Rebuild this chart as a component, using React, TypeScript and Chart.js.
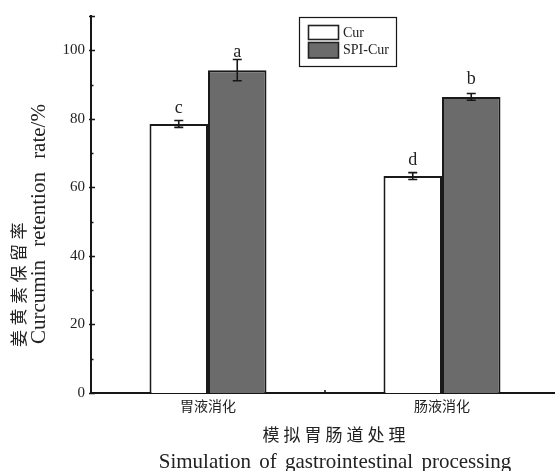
import React, { useEffect, useRef } from 'react';
import Chart from 'chart.js/auto';

const categories = ['胃液消化', '肠液消化'];
const seriesNames = ['Cur', 'SPI-Cur'];
const curValues = [78.5, 63.3];
const spiCurValues = [94.2, 86.4];
const curErrors = [1.0, 1.0];
const spiCurErrors = [3.1, 1.0];
const curLetters = ['c', 'd'];
const spiCurLetters = ['a', 'b'];
const curLetterY = [81.6, 66.4];
const spiCurLetterY = [97.9, 90.1];
const yTickValues = [0, 20, 40, 60, 80, 100];
const yMinorTickValues = [10, 30, 50, 70, 90];
const yMax = 110;
const yTitleZh = '姜黄素保留率';
const yTitleEn = 'Curcumin retention rate/%';
const xTitleZh = '模拟胃肠道处理';
const xTitleEn = 'Simulation of gastrointestinal processing';

const SERIF = '"Liberation Serif", "DejaVu Serif", serif';
const CJK = '"Noto Sans CJK SC", sans-serif';
const INK = '#161616';
const TEXT = '#222222';
const GRAY = '#6b6b6b';

const overlay = {
  id: 'overlay',
  afterDatasetsDraw(chart: any) {
    const ctx = chart.ctx;
    const y = chart.scales.y;
    const errs = [curErrors, spiCurErrors];
    const letters = [curLetters, spiCurLetters];
    const letterY = [curLetterY, spiCurLetterY];
    chart.data.datasets.forEach((ds: any, di: number) => {
      const meta = chart.getDatasetMeta(di);
      meta.data.forEach((bar: any, i: number) => {
        const v = ds.data[i];
        const e = errs[di][i];
        const yt = y.getPixelForValue(v + e);
        const yb = y.getPixelForValue(v - e);
        const x = bar.x;
        ctx.save();
        ctx.strokeStyle = INK;
        ctx.lineWidth = 1.6;
        ctx.beginPath();
        ctx.moveTo(x, yt);
        ctx.lineTo(x, yb);
        ctx.moveTo(x - 4.5, yt);
        ctx.lineTo(x + 4.5, yt);
        ctx.moveTo(x - 4.5, yb);
        ctx.lineTo(x + 4.5, yb);
        ctx.stroke();
        ctx.fillStyle = TEXT;
        ctx.font = '18px ' + SERIF;
        ctx.textAlign = 'center';
        ctx.textBaseline = 'alphabetic';
        ctx.fillText(letters[di][i], x, y.getPixelForValue(letterY[di][i]));
        ctx.restore();
      });
    });
  },
  afterDraw(chart: any) {
    const ctx = chart.ctx;
    const y = chart.scales.y;
    const x = chart.scales.x;
    const area = chart.chartArea;
    ctx.save();
    ctx.strokeStyle = INK;
    ctx.lineWidth = 1.6;
    // y ticks
    ctx.beginPath();
    [...yTickValues, yMax].forEach((v) => {
      const py = Math.round(y.getPixelForValue(v)) + 0.5;
      ctx.moveTo(area.left - 2, py);
      ctx.lineTo(area.left + 4, py);
    });
    yMinorTickValues.forEach((v) => {
      const py = Math.round(y.getPixelForValue(v)) + 0.5;
      ctx.moveTo(area.left, py);
      ctx.lineTo(area.left + 2.5, py);
    });
    // x category boundary tick
    const mid = (x.getPixelForValue(0) + x.getPixelForValue(1)) / 2;
    ctx.moveTo(mid, area.bottom);
    ctx.lineTo(mid, area.bottom - 3);
    ctx.stroke();

    // legend
    ctx.lineWidth = 1.2;
    ctx.strokeRect(299.5, 17.5, 97, 49);
    ctx.lineWidth = 1.6;
    ctx.strokeStyle = '#222';
    ctx.fillStyle = '#ffffff';
    ctx.fillRect(308.5, 25.5, 30, 14);
    ctx.strokeRect(308.5, 25.5, 30, 14);
    ctx.fillStyle = GRAY;
    ctx.fillRect(308.5, 42.5, 30, 15.5);
    ctx.strokeRect(308.5, 42.5, 30, 15.5);
    ctx.fillStyle = TEXT;
    ctx.font = '14px ' + SERIF;
    ctx.textAlign = 'left';
    ctx.textBaseline = 'middle';
    ctx.fillText(seriesNames[0], 343, 33);
    ctx.fillText(seriesNames[1], 343, 50);

    // x titles
    ctx.textAlign = 'center';
    ctx.font = '17px ' + CJK;
    (ctx as any).letterSpacing = '4px';
    ctx.textBaseline = 'middle';
    ctx.fillText(xTitleZh, 336, 435);
    (ctx as any).letterSpacing = '0px';
    ctx.font = '21px ' + SERIF;
    (ctx as any).wordSpacing = '3px';
    ctx.textBaseline = 'alphabetic';
    ctx.fillText(xTitleEn, 335, 468);
    (ctx as any).wordSpacing = '0px';

    // y titles
    ctx.save();
    ctx.translate(19, 347);
    ctx.rotate(-Math.PI / 2);
    ctx.textAlign = 'left';
    ctx.textBaseline = 'middle';
    ctx.font = '17px ' + CJK;
    (ctx as any).letterSpacing = '4.5px';
    ctx.fillText(yTitleZh, 0, 0);
    ctx.restore();
    ctx.save();
    ctx.translate(45, 344);
    ctx.rotate(-Math.PI / 2);
    ctx.textAlign = 'left';
    ctx.textBaseline = 'alphabetic';
    ctx.font = '21px ' + SERIF;
    (ctx as any).wordSpacing = '8px';
    ctx.fillText(yTitleEn, 0, 0);
    ctx.restore();

    ctx.restore();
  },
};

export default function App() {
  const ref = useRef<HTMLCanvasElement | null>(null);
  useEffect(() => {
    if (!ref.current) return;
    const chart = new Chart(ref.current, {
      type: 'bar',
      data: {
        labels: categories,
        datasets: [
          {
            label: seriesNames[0],
            data: curValues,
            backgroundColor: '#ffffff',
            borderColor: '#1a1a1a',
            borderWidth: 2,
            barPercentage: 1,
            categoryPercentage: 0.5,
          },
          {
            label: seriesNames[1],
            data: spiCurValues,
            backgroundColor: GRAY,
            borderColor: '#1a1a1a',
            borderWidth: 2,
            barPercentage: 1,
            categoryPercentage: 0.5,
          },
        ],
      },
      options: {
        responsive: false,
        animation: false,
        devicePixelRatio: 1,
        layout: { padding: { left: 0, right: 1, top: 16, bottom: 0 } },
        plugins: {
          legend: { display: false },
          tooltip: { enabled: false },
          title: { display: false },
        },
        scales: {
          x: {
            type: 'category',
            offset: true,
            grid: { display: false, drawTicks: false },
            border: { display: true, color: INK, width: 2 },
            ticks: {
              color: TEXT,
              font: { family: 'Noto Sans CJK SC', size: 14 },
              padding: 4,
              maxRotation: 0,
            },
            afterFit: (s: any) => {
              s.height = 78;
            },
          },
          y: {
            min: 0,
            max: yMax,
            grid: { display: false, drawTicks: false },
            border: { display: true, color: INK, width: 2 },
            ticks: {
              color: TEXT,
              font: { family: 'Liberation Serif', size: 15 },
              padding: 6,
            },
            afterBuildTicks: (s: any) => {
              s.ticks = yTickValues.map((v) => ({ value: v }));
            },
            afterFit: (s: any) => {
              s.width = 91;
            },
          },
        },
      },
      plugins: [overlay],
    });
    return () => chart.destroy();
  }, []);
  return (
    <div
      style={{
        position: 'fixed',
        left: 0,
        top: 0,
        width: 555,
        height: 471,
        overflow: 'hidden',
        background: '#ffffff',
      }}
    >
      <canvas ref={ref} width={560} height={471} style={{ display: 'block' }} />
    </div>
  );
}
